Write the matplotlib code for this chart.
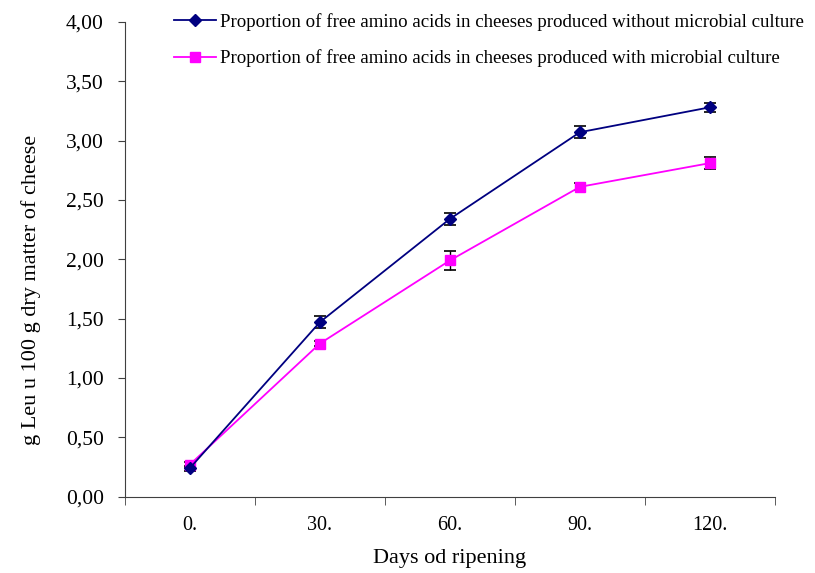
import matplotlib.pyplot as plt
import numpy as np
from matplotlib.ticker import FuncFormatter, FixedLocator

plt.rcParams['font.family'] = ['Liberation Serif', 'DejaVu Serif']

days = ['0.', '30.', '60.', '90.', '120.']
without_culture = [0.24, 1.47, 2.34, 3.07, 3.28]
without_err = [0.02, 0.05, 0.05, 0.05, 0.04]
with_culture = [0.27, 1.29, 1.99, 2.61, 2.81]
with_err = [0.02, 0.02, 0.08, 0.03, 0.05]

label1 = 'Proportion of free amino acids in cheeses produced without microbial culture'
label2 = 'Proportion of free amino acids in cheeses produced with microbial culture'

fig = plt.figure(figsize=(8.15, 5.73), dpi=100)
ax = fig.add_axes([0.153, 0.133, 0.798, 0.829])

x = np.arange(len(days))
ax.errorbar(x, without_culture, yerr=without_err, fmt='none', ecolor='black',
            elinewidth=1, capsize=4, capthick=1.2, zorder=1)
ax.errorbar(x, with_culture, yerr=with_err, fmt='none', ecolor='black',
            elinewidth=1, capsize=4, capthick=1.2, zorder=1)
ax.plot(x, without_culture, color='#000080', marker='D', ms=6, lw=1.3, label=label1, zorder=3)
ax.plot(x, with_culture, color='#FF00FF', marker='s', ms=7, lw=1.3, label=label2, zorder=2)

ax.set_xlim(-0.5, len(days) - 0.5)
ax.set_ylim(0, 4)
ax.set_yticks(np.arange(0, 4.01, 0.5))
ax.yaxis.set_major_formatter(FuncFormatter(lambda v, p: f'{v:.2f}'.replace('.', ',')))
ax.set_xticks(x)
ax.set_xticklabels(days)
ax.tick_params(axis='x', which='major', length=0, pad=14, labelsize=14.5)
ax.xaxis.set_minor_locator(FixedLocator(np.arange(-0.5, len(days), 1.0)))
ax.tick_params(axis='x', which='minor', length=6, color='#404040')
ax.tick_params(axis='y', length=5, color='#404040', labelsize=15.5, pad=10)

for s in ['top', 'right']:
    ax.spines[s].set_visible(False)
for s in ['left', 'bottom']:
    ax.spines[s].set_color('#404040')

ax.set_ylabel('g Leu u 100 g dry matter of cheese', fontsize=16)
ax.yaxis.set_label_coords(-0.128, 0.436)
ax.set_xlabel('Days od ripening', fontsize=16, labelpad=10)

ax.legend(loc='upper left', bbox_to_anchor=(0.05, 1.055), frameon=False, fontsize=13.6,
          labelspacing=1.0, handlelength=2.2, handletextpad=0.2)

fig.savefig('out.png', dpi=100)
